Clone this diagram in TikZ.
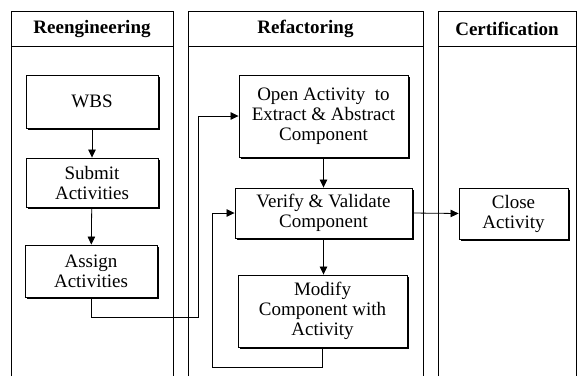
\documentclass[tikz,border=0pt]{standalone}
\usepackage{fontspec}
\setmainfont{Liberation Serif}
\usetikzlibrary{arrows.meta,shadows}
\tikzset{
  lane/.style={draw=black, line width=0.9pt},
  proc/.style={draw=black, fill=white, line width=0.9pt, align=center, inner sep=0pt,
     font=\fontsize{19}{20}\selectfont,
     drop shadow={shadow xshift=1.6pt, shadow yshift=-1.6pt, opacity=1, fill=black}},
  head/.style={font=\fontsize{19}{20}\selectfont\bfseries, inner sep=0pt},
  flow/.style={draw=black, line width=0.8pt, -{Triangle[length=8pt,width=7.5pt]}},
}
\begin{document}
\begin{tikzpicture}[x=1pt,y=-1pt]
\useasboundingbox (0,0) rectangle (578,376);
% lanes
\draw[lane] (11,376) -- (11,11) -- (173,11) -- (173,376);
\draw[lane] (11,46) -- (173,46);
\draw[lane] (188,376) -- (188,11) -- (423,11) -- (423,376);
\draw[lane] (188,46) -- (423,46);
\draw[lane] (438,376) -- (438,11) -- (576,11) -- (576,376);
\draw[lane] (438,46) -- (576,46);
\node[head] (h1) at (92,29) {Reengineering};
\node[head] (h2) at (305.5,29) {Refactoring};
\node[head] (h3) at (507,29) {Certification};
% boxes
\node[proc, minimum width=132pt, minimum height=53pt] (wbs) at (92,101.5) {WBS};
\node[proc, minimum width=132pt, minimum height=49pt] (sub) at (92,182.5) {Submit\\Activities};
\node[proc, minimum width=132pt, minimum height=52pt] (asg) at (91,271) {Assign\\Activities};
\node[proc, minimum width=169pt, minimum height=82pt] (open) at (323.5,116) {Open Activity\ \ to\\Extract \& Abstract\\Component};
\node[proc, minimum width=177pt, minimum height=50pt] (ver) at (323.5,213) {Verify \& Validate\\Component};
\node[proc, minimum width=169pt, minimum height=72pt] (mod) at (322.5,311) {Modify\\Component with\\Activity};
\node[proc, minimum width=109pt, minimum height=51pt] (close) at (513.5,213.5) {Close\\Activity};
% connectors
\coordinate (a1) at (198,317);
\coordinate (m1) at (212,367);
\draw[flow] (wbs) -- (sub);
\draw[flow] (sub) -- (asg);
\draw[flow] (asg.south) |- (a1) |- (open.west);
\draw[flow] (open.south) -- (open.south |- ver.north);
\draw[flow] (ver.south) -- (ver.south |- mod.north);
\draw[flow] (mod.south) |- (m1) |- (ver.west);
\draw[flow] (ver.east) -- (close.west);
\end{tikzpicture}
\end{document}
